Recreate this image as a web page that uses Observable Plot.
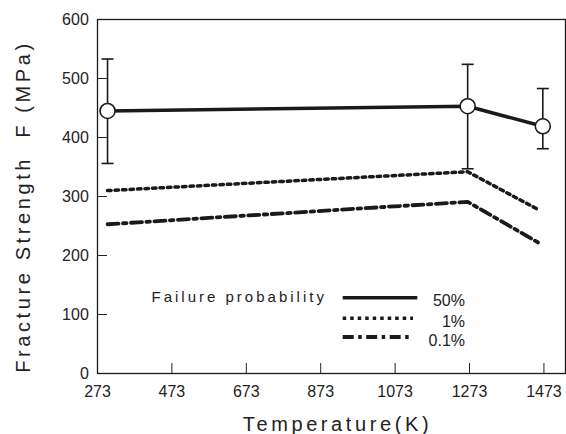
<!DOCTYPE html>
<html>
<head>
<meta charset="utf-8">
<script src="https://cdn.jsdelivr.net/npm/d3@7"></script>
<script src="https://cdn.jsdelivr.net/npm/@observablehq/plot@0.6"></script>
<style>
  body { margin: 0; background: #fff; }
  #chart { position: relative; width: 566px; height: 434px; }
  #chart > svg { display: block; }
  #legend { position: absolute; left: 0; top: 0; pointer-events: none; }
</style>
</head>
<body>
<div id="chart"></div>
<script>
// ---- data ----
const tempMean = [300, 1268, 1470];          // K, 50% points with error bars
const strengthMean = [445, 453, 419];        // MPa
const errHigh = [533, 524, 483];
const errLow = [356, 347, 381];

const tempLines = [300, 1268, 1460];         // K, lower failure-probability lines
const strength1 = [310, 342, 277];           // 1 %
const strength01 = [253, 291, 221];          // 0.1 %

const xTicks = [273, 473, 673, 873, 1073, 1273, 1473];
const yTicks = [0, 100, 200, 300, 400, 500, 600];

const xTitle = "Temperature(K)";
const yTitle = "Fracture Strength  F (MPa)";
const legendTitle = "Failure probability";
const legendLabels = ["50%", "1%", "0.1%"];

// ---- tables ----
const mean = tempMean.map((t, i) => ({t, s: strengthMean[i], lo: errLow[i], hi: errHigh[i]}));
const p1 = tempLines.map((t, i) => ({t, s: strength1[i]}));
const p01 = tempLines.map((t, i) => ({t, s: strength01[i]}));

const dash1 = "3.5,4";
const dash01 = "11,4.5,3.5,4.5";
const ink = "#1a1a1a";

const capSymbol = {
  draw(ctx, size) {
    const h = Math.sqrt(size / Math.PI);
    ctx.moveTo(-h, 0);
    ctx.lineTo(h, 0);
  }
};

const chart = Plot.plot({
  width: 566,
  height: 434,
  marginLeft: 97,
  marginRight: 1,
  marginTop: 19,
  marginBottom: 61,
  x: {domain: [273, 1531]},
  y: {domain: [0, 600]},
  style: {fontFamily: "'Liberation Sans', Arial, sans-serif", fontSize: "16px", color: "#222", background: "white"},
  marks: [
    Plot.axisX({ticks: xTicks, tickSize: -10, tickPadding: 21.7, tickFormat: d => String(d), label: null, fontSize: 16}),
    Plot.axisY({ticks: yTicks, tickSize: -10, tickPadding: 18.7, tickFormat: d => String(d), label: null, fontSize: 16}),
    Plot.frame({stroke: ink, strokeWidth: 1.3}),
    Plot.line(p1, {x: "t", y: "s", stroke: ink, strokeWidth: 3.5, strokeDasharray: dash1}),
    Plot.line(p01, {x: "t", y: "s", stroke: ink, strokeWidth: 3.8, strokeDasharray: dash01}),
    Plot.ruleX(mean, {x: "t", y1: "lo", y2: "hi", stroke: ink, strokeWidth: 1.6}),
    Plot.dot(mean, {x: "t", y: "lo", symbol: capSymbol, r: 6, stroke: ink, strokeWidth: 1.6, fill: "none"}),
    Plot.dot(mean, {x: "t", y: "hi", symbol: capSymbol, r: 6, stroke: ink, strokeWidth: 1.6, fill: "none"}),
    Plot.line(mean, {x: "t", y: "s", stroke: ink, strokeWidth: 3.6}),
    Plot.dot(mean, {x: "t", y: "s", r: 7.5, fill: "white", stroke: ink, strokeWidth: 1.6}),
    Plot.text([yTitle], {text: d => d, frameAnchor: "left", textAnchor: "middle", lineAnchor: "middle", rotate: -90, dx: -74, dy: 10, fontSize: 20, fill: "#222"}),
    Plot.text([xTitle], {text: d => d, frameAnchor: "bottom", textAnchor: "middle", lineAnchor: "bottom", dx: 6, dy: 57.7, fontSize: 20, fill: "#222"})
  ]
});
document.getElementById("chart").appendChild(chart);

// letter-spaced axis titles, as in the reference
d3.select(chart).selectAll("text")
  .filter(function () { return this.textContent === xTitle || this.textContent === yTitle; })
  .attr("letter-spacing", "3.6px");

// ---- legend overlay (inside the plot area) ----
const legend = d3.select("#chart").append("svg")
  .attr("id", "legend").attr("width", 566).attr("height", 434)
  .style("font-family", "'Liberation Sans', Arial, sans-serif");

legend.append("text")
  .attr("x", 151.5).attr("y", 302)
  .attr("font-size", 15).attr("letter-spacing", "3px").attr("fill", "#222")
  .text(legendTitle);

const dashes = [null, dash1, dash01];
const widths = [3.6, 3.5, 3.8];
const rowY = [297.7, 318.3, 337];
const lineEnds = [417.3, 413, 413];
legendLabels.forEach((lab, i) => {
  legend.append("line")
    .attr("x1", 342.7).attr("x2", lineEnds[i])
    .attr("y1", rowY[i]).attr("y2", rowY[i])
    .attr("stroke", ink).attr("stroke-width", widths[i])
    .attr("stroke-dasharray", dashes[i]);
  legend.append("text")
    .attr("x", 465).attr("y", rowY[i] + 8.5)
    .attr("text-anchor", "end").attr("font-size", 16).attr("fill", "#222")
    .text(lab);
});
</script>
</body>
</html>
